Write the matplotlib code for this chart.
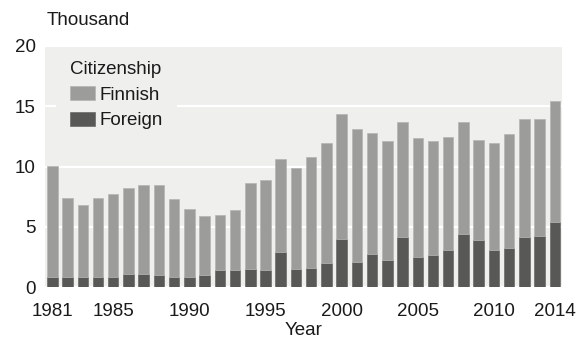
import numpy as np
import matplotlib
matplotlib.use("Agg")
import matplotlib.pyplot as plt

plt.rcParams['font.family'] = ['Liberation Sans', 'DejaVu Sans']

years = list(range(1981, 2015))
# totals (thousand) and foreign citizens part
total = [10.05, 7.44, 6.78, 7.44, 7.71, 8.26, 8.45, 8.45, 7.35, 6.50,
         5.92, 6.03, 6.39, 8.64, 8.93, 10.60, 9.86, 10.83, 12.00, 14.35,
         13.14, 12.83, 12.09, 13.69, 12.40, 12.09, 12.48, 13.69, 12.20, 11.93,
         12.67, 13.91, 13.91, 15.48]
foreign = [0.88, 0.88, 0.88, 0.88, 0.88, 1.12, 1.12, 1.02, 0.88, 0.88,
           1.02, 1.43, 1.43, 1.54, 1.43, 2.94, 1.54, 1.62, 1.98, 4.02,
           2.09, 2.75, 2.28, 4.13, 2.53, 2.64, 3.11, 4.40, 3.93, 3.11,
           3.27, 4.13, 4.24, 5.45]
finnish = np.array(total) - np.array(foreign)

xticks = [1981, 1985, 1990, 1995, 2000, 2005, 2010, 2014]
yticks = [0, 5, 10, 15, 20]

bg = '#efefed'
c_fin = '#9c9c9a'
c_for = '#585856'
txt = '#1a1a1a'

fig = plt.figure(figsize=(5.77, 3.43), dpi=100)
ax = fig.add_axes([0.078, 0.1624, 0.8957, 0.7035])
ax.set_facecolor(bg)

w = 0.69
ax.bar(years, foreign, width=w, color=c_for, edgecolor='#6a6a68', lw=0.5,
       label='Foreign', zorder=3)
ax.bar(years, finnish, bottom=foreign, width=w, color=c_fin, edgecolor='#b4b4b2',
       lw=0.5, label='Finnish', zorder=3)

ax.set_xlim(1980.52, 2014.46)
ax.set_ylim(0, 20)
ax.set_xticks(xticks)
ax.set_yticks(yticks)
ax.yaxis.grid(True, color='white', lw=1.6, zorder=0)
ax.set_axisbelow(True)
for s in ax.spines.values():
    s.set_visible(False)
ax.tick_params(axis='x', length=0, pad=11, labelsize=13.5, colors=txt)
ax.tick_params(axis='y', length=0, pad=6.5, labelsize=13.5, colors=txt)

ax.set_xlabel('Year', fontsize=13.5, color=txt, labelpad=2)
fig.text(0.081, 0.915, 'Thousand', fontsize=13.5, color=txt, va='bottom', ha='left')

h, l = ax.get_legend_handles_labels()
leg = ax.legend(h[::-1], l[::-1], title='Citizenship', loc='upper left',
                bbox_to_anchor=(0.022, 0.995), fontsize=13.5, title_fontsize=13.5,
                frameon=True, facecolor=bg, edgecolor=bg, framealpha=1,
                handlelength=1.3, handleheight=0.8, handletextpad=0.25,
                labelspacing=0.42, borderpad=0.75, borderaxespad=0.0, fancybox=False)
leg._legend_box.align = 'left'
leg.get_frame().set_linewidth(0)
for t in leg.get_texts():
    t.set_color(txt)
leg.get_title().set_color(txt)

plt.savefig('out.png', dpi=100)
